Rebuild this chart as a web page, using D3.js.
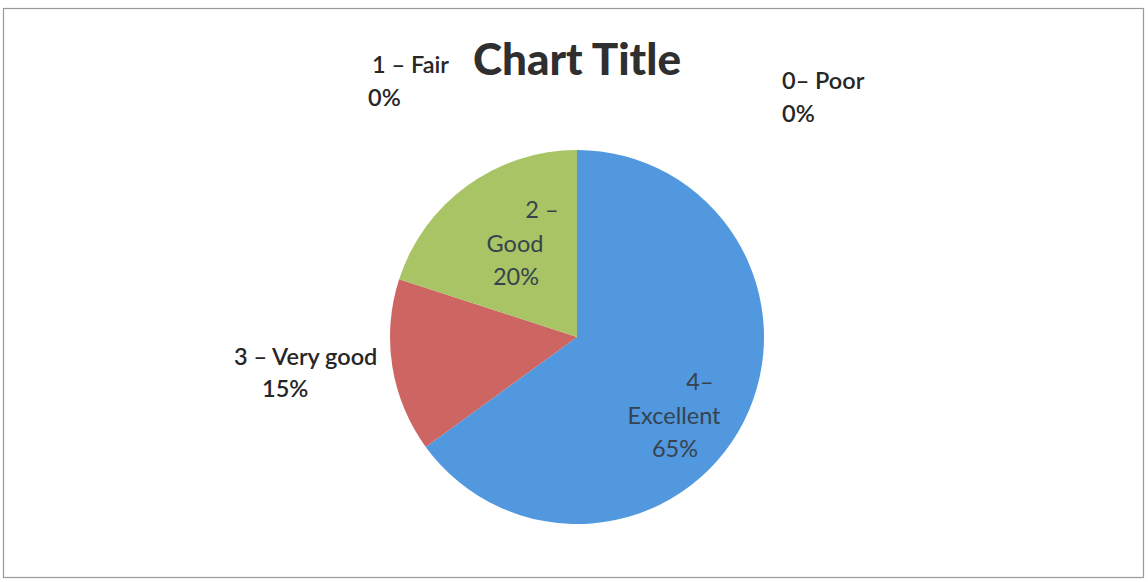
<!DOCTYPE html>
<html><head><meta charset="utf-8">
<script src="https://cdn.jsdelivr.net/npm/d3@7/dist/d3.min.js"></script>
<style>html,body{margin:0;padding:0;background:#fff;}svg{display:block;}</style>
</head><body><svg id="c" width="1148" height="582"></svg>
<script>
// Data (pie order clockwise from 12 o'clock, as in the reference)
const categories = ["4– Excellent", "3 – Very good", "2 – Good", "1 – Fair", "0– Poor"];
const values = [65, 15, 20, 0, 0];
const labelLines = [["4–", "Excellent", "65%"], ["3 – Very good", "15%"], ["2 –", "Good", "20%"], ["1 – Fair", "0%"], ["0– Poor", "0%"]];
const colors = ["#5298df", "#cd6562", "#a8c464", "#8064a2", "#4bacc6"];
const title = "Chart Title";

const svg = d3.select("#c");
const font = "Lato, 'Open Sans', sans-serif";

// chart border
svg.append("rect").attr("x", 3.5).attr("y", 8.5).attr("width", 1140).attr("height", 569)
  .attr("fill", "#fff").attr("stroke", "#9a9a9a").attr("stroke-width", 1.2);

svg.append("text").attr("x", 577).attr("y", 75).attr("text-anchor", "middle")
  .attr("font-family", font).attr("font-weight", 900).attr("font-size", 44)
  .attr("fill", "#2f2f2f").text(title);

const cx = 577, cy = 337, r = 187;
const g = svg.append("g").attr("transform", `translate(${cx},${cy})`);
const pie = d3.pie().sort(null).value(d => d)(values);
const arc = d3.arc().innerRadius(0).outerRadius(r);

g.selectAll("path.slice").data(pie).join("path").attr("class", "slice")
  .attr("d", arc).attr("fill", (d, i) => colors[i]);

// label layout (offsets relative to pie centre)
const layout = [
  {inside: true, lines: [[123, 53], [97, 87], [98, 120]]},
  {inside: false, lines: [[-343, 28], [-315, 60]]},
  {inside: true, lines: [[-35, -119], [-62, -85], [-61, -52]]},
  {inside: false, lines: [[-205, -264], [-209, -231]]},
  {inside: false, lines: [[205, -248], [205, -215]]}
];
layout.forEach((L, i) => {
  L.lines.forEach((p, j) => {
    g.append("text").attr("x", p[0]).attr("y", p[1])
      .attr("text-anchor", L.inside ? "middle" : "start")
      .attr("font-family", font).attr("font-size", 23.5)
      .attr("font-weight", L.inside ? 400 : 600)
      .attr("fill", L.inside ? "#36434e" : "#262626")
      .text(labelLines[i][j]);
  });
});
</script></body></html>
